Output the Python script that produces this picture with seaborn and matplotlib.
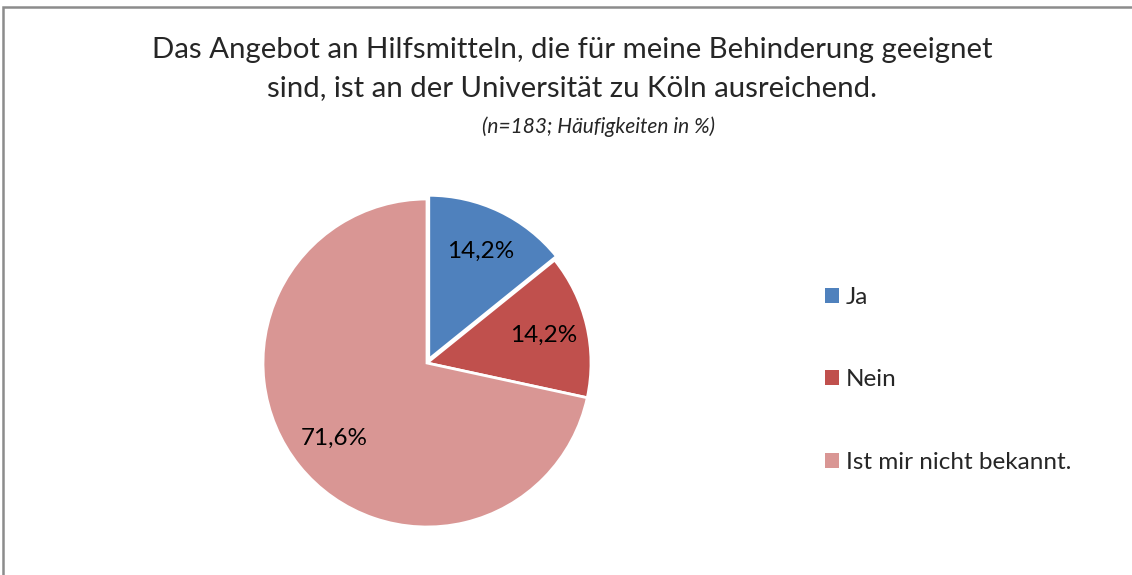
import matplotlib
matplotlib.use('Agg')
import matplotlib.pyplot as plt
import seaborn as sns
from matplotlib.patches import Rectangle, Patch

# Daten
categories = ["Ja", "Nein", "Ist mir nicht bekannt."]
shares = [14.2, 14.2, 71.6]
colors = ["#4F81BD", "#C0504D", "#D99694"]
title_lines = ["Das Angebot an Hilfsmitteln, die für meine Behinderung geeignet",
               "sind, ist an der Universität zu Köln ausreichend."]
subtitle = "(n=183; Häufigkeiten in %)"

sns.set_theme(style="white")
plt.rcParams['font.family'] = ['Lato', 'DejaVu Sans']

W, H = 1132, 575
fig = plt.figure(figsize=(W / 100, H / 100), dpi=100)
fig.patch.set_facecolor("white")

# Rahmen des Diagramms
fig.add_artist(Rectangle((3 / W, -0.05), 1.2, 1 - 7 / H + 0.05, transform=fig.transFigure,
                         fill=False, edgecolor="#8c8c8c", linewidth=1.8))

# Kreis: Mittelpunkt und Radius in Pixeln
cx, cy, r = 427, 363, 164
lim = 1.1
size = 2 * lim * r
ax = fig.add_axes([(cx - size / 2) / W, (H - cy - size / 2) / H, size / W, size / H])

wedges, texts, autotexts = ax.pie(
    shares, colors=colors, startangle=90, counterclock=False,
    explode=[0.025, 0, 0], radius=1,
    autopct=lambda p: f"{p:.1f}%".replace(".", ","), pctdistance=0.73,
    wedgeprops=dict(edgecolor="white", linewidth=2),
    textprops=dict(fontsize=17.5, color="black"))
ax.set_xlim(-lim, lim)
ax.set_ylim(-lim, lim)
ax.set_aspect("equal")
ax.axis("off")

fig.text(572 / W, 1 - 50 / H, title_lines[0], ha="center", va="center", fontsize=21.2)
fig.text(572 / W, 1 - 88 / H, title_lines[1], ha="center", va="center", fontsize=21.2)
fig.text(599 / W, 1 - 127 / H, subtitle, ha="center", va="center",
         fontsize=15, style="italic")

handles = [Patch(facecolor=c, edgecolor="none") for c in colors]
fig.legend(handles, categories, loc="upper left", bbox_to_anchor=(803 / W, 1 - 265 / H),
           frameon=False, fontsize=17.5, handlelength=0.58, handleheight=0.58,
           handletextpad=0.28, labelspacing=2.53)

fig.savefig("out.png", dpi=100)
